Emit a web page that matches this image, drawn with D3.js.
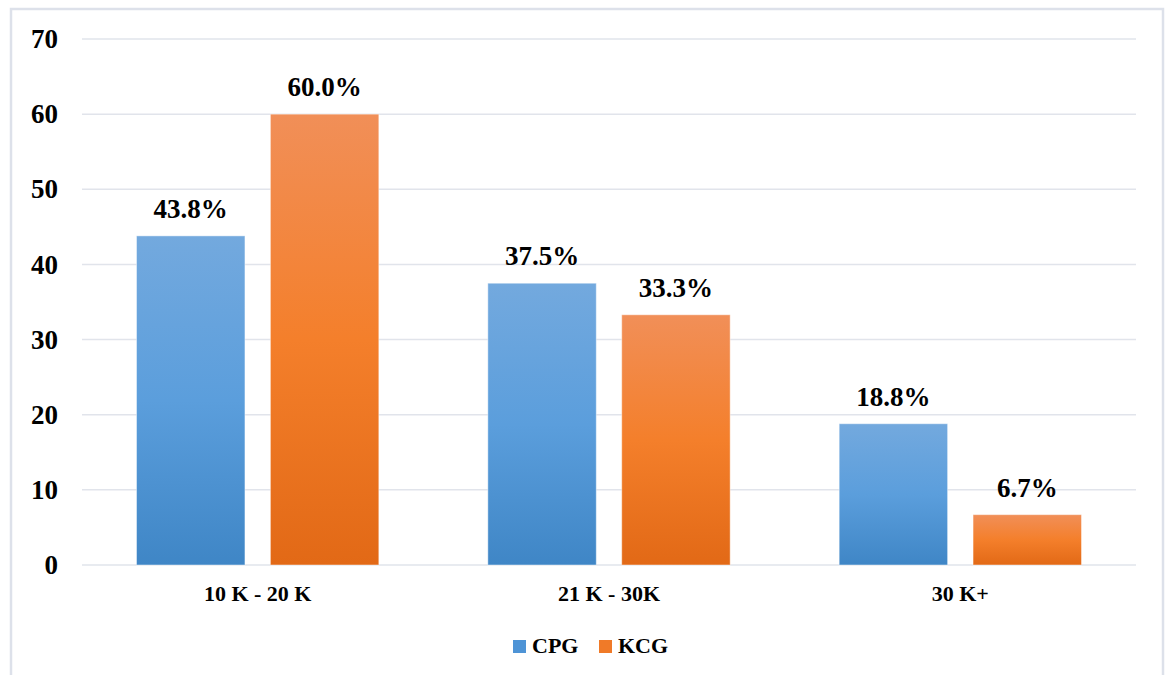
<!DOCTYPE html>
<html>
<head>
<meta charset="utf-8">
<script src="https://cdn.jsdelivr.net/npm/d3@7"></script>
<style>
  html, body { margin: 0; padding: 0; background: #fff; }
  svg { display: block; }
  text { font-family: "Liberation Serif", "Times New Roman", serif; font-weight: bold; fill: #000; }
</style>
</head>
<body>
<svg id="chart" width="1165" height="675"></svg>
<script>
// Income bands and the share (%) of each group falling in them
const categories = ["10 K - 20 K", "21 K - 30K", "30 K+"];
const seriesNames = ["CPG", "KCG"];
const cpgValues = [43.8, 37.5, 18.8];
const kcgValues = [60.0, 33.3, 6.7];
const yTicks = [0, 10, 20, 30, 40, 50, 60, 70];

const svg = d3.select("#chart");
const W = 1165, H = 675;
const margin = { left: 82, right: 29, top: 39, bottom: 110 };
const innerW = W - margin.left - margin.right;
const innerH = H - margin.top - margin.bottom;

// Outer frame
svg.append("rect")
  .attr("x", 11).attr("y", 9)
  .attr("width", 1152).attr("height", 700)
  .attr("fill", "#fff")
  .attr("stroke", "#dde1ea").attr("stroke-width", 2.5);

const defs = svg.append("defs");
const gradients = [
  { id: "gradBlue", stops: ["#73a9de", "#5b9edc", "#3f86c6"] },
  { id: "gradOrange", stops: ["#f18f58", "#f47f2b", "#e26916"] }
];
gradients.forEach(g => {
  const lg = defs.append("linearGradient").attr("id", g.id)
    .attr("x1", 0).attr("y1", 0).attr("x2", 0).attr("y2", 1);
  g.stops.forEach((c, i) => lg.append("stop")
    .attr("offset", (i / (g.stops.length - 1) * 100) + "%")
    .attr("stop-color", c));
});
const fills = ["url(#gradBlue)", "url(#gradOrange)"];
const legendColors = ["#4e94d6", "#f07a28"];

const g = svg.append("g").attr("transform", `translate(${margin.left},${margin.top})`);

const y = d3.scaleLinear().domain([0, 70]).range([innerH, 0]);
const x0 = d3.scaleBand().domain(categories).range([0, innerW]).paddingInner(0).paddingOuter(0);
const groupPad = 54.5;
const x1 = d3.scaleBand().domain(seriesNames)
  .range([groupPad, x0.bandwidth() - groupPad]).paddingInner(0.19).paddingOuter(0);

// Gridlines
g.append("g").selectAll("line").data(yTicks).join("line")
  .attr("x1", 0).attr("x2", innerW)
  .attr("y1", d => y(d)).attr("y2", d => y(d))
  .attr("stroke", "#e1e4eb").attr("stroke-width", 1.5);

// Y axis labels
const yAxis = d3.axisLeft(y).tickValues(yTicks).tickSize(0).tickPadding(24);
const ya = g.append("g").call(yAxis);
ya.select(".domain").remove();
ya.selectAll("text")
  .style("font-family", '"Liberation Serif", "Times New Roman", serif')
  .style("font-weight", "bold")
  .style("font-size", "27px")
  .attr("fill", "#000");

const data = categories.map((c, i) => ({
  cat: c,
  vals: [
    { name: seriesNames[0], v: cpgValues[i], k: 0 },
    { name: seriesNames[1], v: kcgValues[i], k: 1 }
  ]
}));

const groups = g.selectAll("g.grp").data(data).join("g")
  .attr("class", "grp")
  .attr("transform", d => `translate(${x0(d.cat)},0)`);

groups.selectAll("rect").data(d => d.vals).join("rect")
  .attr("x", d => x1(d.name))
  .attr("width", x1.bandwidth())
  .attr("y", d => y(d.v))
  .attr("height", d => y(0) - y(d.v))
  .attr("fill", d => fills[d.k])
  .attr("stroke", "rgba(255,255,255,0.45)").attr("stroke-width", 1);

groups.selectAll("text.val").data(d => d.vals).join("text")
  .attr("class", "val")
  .attr("x", d => x1(d.name) + x1.bandwidth() / 2)
  .attr("y", d => y(d.v) - 18)
  .attr("text-anchor", "middle")
  .style("font-size", "27px")
  .text(d => d.v.toFixed(1) + "%");

// Category axis
const xAxis = d3.axisBottom(x0).tickSize(0).tickPadding(20);
const xa = g.append("g").attr("transform", `translate(0,${innerH})`).call(xAxis);
xa.select(".domain").remove();
xa.selectAll("text")
  .style("font-family", '"Liberation Serif", "Times New Roman", serif')
  .style("font-weight", "bold")
  .style("font-size", "22px")
  .attr("fill", "#000");

// Legend
const legend = svg.append("g").attr("transform", "translate(513,640)");
const legendX = [0, 86];
seriesNames.forEach((n, i) => {
  const lg = legend.append("g").attr("transform", `translate(${legendX[i]},0)`);
  lg.append("rect").attr("width", 13).attr("height", 13).attr("fill", legendColors[i]);
  lg.append("text").attr("x", 19).attr("y", 12.5).style("font-size", "22px").text(n);
});
</script>
</body>
</html>
